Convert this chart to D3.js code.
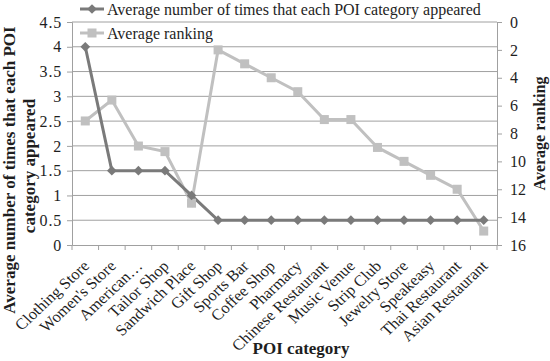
<!DOCTYPE html>
<html>
<head>
<meta charset="utf-8">
<script src="https://cdn.jsdelivr.net/npm/d3@7"></script>
<style>
  body { margin: 0; background: #fff; }
  svg { display: block; font-family: "Liberation Serif", "Times New Roman", serif; }
</style>
</head>
<body>
<script>
const categories = ['Clothing Store', "Women's Store", 'American…', 'Tailor Shop', 'Sandwich Place',
  'Gift Shop', 'Sports Bar', 'Coffee Shop', 'Pharmacy', 'Chinese Restaurant', 'Music Venue',
  'Strip Club', 'Jewelry Store', 'Speakeasy', 'Thai Restaurant', 'Asian Restaurant'];
const avgTimes = [4, 1.5, 1.5, 1.5, 1, 0.5, 0.5, 0.5, 0.5, 0.5, 0.5, 0.5, 0.5, 0.5, 0.5, 0.5];
const avgRanking = [7.1, 5.6, 8.9, 9.3, 13, 2, 3, 4, 5, 7, 7, 9, 10, 11, 12, 15];
const leftTicks = [0, 0.5, 1, 1.5, 2, 2.5, 3, 3.5, 4, 4.5];
const rightTicks = [0, 2, 4, 6, 8, 10, 12, 14, 16];

const width = 550, height = 361;
const margin = { top: 22, right: 53, bottom: 116, left: 72 };
const plotW = width - margin.left - margin.right;
const plotH = height - margin.top - margin.bottom;

const dark = '#7a7a7a', light = '#c0c0c0', grid = '#a0a0a0', ink = '#1e1e1e';

const svg = d3.select('body').append('svg')
  .attr('width', width)
  .attr('height', height);

const graph = svg.append('g')
  .attr('transform', `translate(${margin.left},${margin.top})`);

const x = d3.scaleBand().domain(categories).range([0, plotW]);
const yL = d3.scaleLinear().domain([0, 4.5]).range([plotH, 0]);
const yR = d3.scaleLinear().domain([0, 16]).range([0, plotH]);

// gridlines
graph.append('g')
  .selectAll('line')
  .data(leftTicks.slice(1))
  .join('line')
  .attr('x1', 0).attr('x2', plotW)
  .attr('y1', d => yL(d)).attr('y2', d => yL(d))
  .attr('stroke', grid).attr('stroke-width', 1);

// left axis
const leftAxis = graph.append('g')
  .call(d3.axisLeft(yL).tickValues(leftTicks).tickSize(5).tickPadding(5).tickFormat(d3.format('')));
// right axis
const rightAxis = graph.append('g')
  .attr('transform', `translate(${plotW},0)`)
  .call(d3.axisRight(yR).tickValues(rightTicks).tickSize(5).tickPadding(8));
// bottom axis: ticks at band edges
const xAxisgroup = graph.append('g')
  .attr('transform', `translate(0,${plotH})`)
  .call(d3.axisBottom(x).tickSize(0).tickFormat(''));
xAxisgroup.selectAll('.edge')
  .data(d3.range(categories.length + 1))
  .join('line')
  .attr('class', 'edge')
  .attr('x1', i => i * x.bandwidth()).attr('x2', i => i * x.bandwidth())
  .attr('y1', 0).attr('y2', 5)
  .attr('stroke', grid);

[leftAxis, rightAxis, xAxisgroup].forEach(g => {
  g.select('.domain').attr('stroke', grid);
  g.selectAll('.tick line').attr('stroke', grid);
  g.selectAll('.tick text').attr('font-size', 16).attr('fill', ink)
    .attr('font-family', '"Liberation Serif", serif');
});
leftAxis.selectAll('.tick text').attr('letter-spacing', 0.8);

// category labels
graph.append('g')
  .selectAll('text')
  .data(categories)
  .join('text')
  .attr('transform', d => `translate(${x(d) + x.bandwidth() / 2 + 5},${plotH + 22}) scale(1.07,1) rotate(-45)`)
  .attr('text-anchor', 'end')
  .attr('font-size', 15.5)
  .attr('fill', ink)
  .text(d => d);

// lines
const lineL = d3.line().x((d, i) => x(categories[i]) + x.bandwidth() / 2).y(d => yL(d));
const lineR = d3.line().x((d, i) => x(categories[i]) + x.bandwidth() / 2).y(d => yR(d));

graph.append('path').datum(avgRanking)
  .attr('d', lineR).attr('fill', 'none').attr('stroke', light).attr('stroke-width', 3);
graph.append('path').datum(avgTimes)
  .attr('d', lineL).attr('fill', 'none').attr('stroke', dark).attr('stroke-width', 3);

graph.append('g').selectAll('rect')
  .data(avgRanking)
  .join('rect')
  .attr('x', (d, i) => x(categories[i]) + x.bandwidth() / 2 - 4.5)
  .attr('y', d => yR(d) - 4.5)
  .attr('width', 9).attr('height', 9)
  .attr('fill', light);

const diamond = d3.symbol().type(d3.symbolDiamond2).size(60);
graph.append('g').selectAll('path')
  .data(avgTimes)
  .join('path')
  .attr('transform', (d, i) => `translate(${x(categories[i]) + x.bandwidth() / 2},${yL(d)})`)
  .attr('d', diamond)
  .attr('fill', dark);

// axis titles
svg.append('text')
  .attr('transform', 'translate(15,170) rotate(-90)')
  .attr('text-anchor', 'middle')
  .attr('font-size', 17).attr('font-weight', 'bold').attr('fill', ink)
  .text('Average number of times that each POI');
svg.append('text')
  .attr('transform', 'translate(35,166) rotate(-90)')
  .attr('text-anchor', 'middle')
  .attr('font-size', 17).attr('font-weight', 'bold').attr('fill', ink)
  .text('category appeared');
svg.append('text')
  .attr('transform', `translate(545,${margin.top + plotH / 2}) rotate(-90)`)
  .attr('text-anchor', 'middle')
  .attr('font-size', 16).attr('font-weight', 'bold').attr('fill', ink)
  .text('Average ranking');
svg.append('text')
  .attr('x', 301).attr('y', 354)
  .attr('text-anchor', 'middle')
  .attr('font-size', 17).attr('font-weight', 'bold').attr('fill', ink)
  .text('POI category');

// legend
const legend = svg.append('g');
const items = [
  { label: 'Average number of times that each POI category appeared', color: dark, y: 9, mark: 'diamond' },
  { label: 'Average ranking', color: light, y: 33, mark: 'square' }
];
items.forEach(it => {
  legend.append('line')
    .attr('x1', 80).attr('x2', 104).attr('y1', it.y).attr('y2', it.y)
    .attr('stroke', it.color).attr('stroke-width', 3);
  if (it.mark === 'diamond') {
    legend.append('path').attr('transform', `translate(92,${it.y})`).attr('d', diamond).attr('fill', it.color);
  } else {
    legend.append('rect').attr('x', 87.5).attr('y', it.y - 4.5).attr('width', 9).attr('height', 9).attr('fill', it.color);
  }
  legend.append('text')
    .attr('x', 107).attr('y', it.y + 6)
    .attr('font-size', 16).attr('fill', ink)
    .text(it.label);
});
</script>
</body>
</html>
